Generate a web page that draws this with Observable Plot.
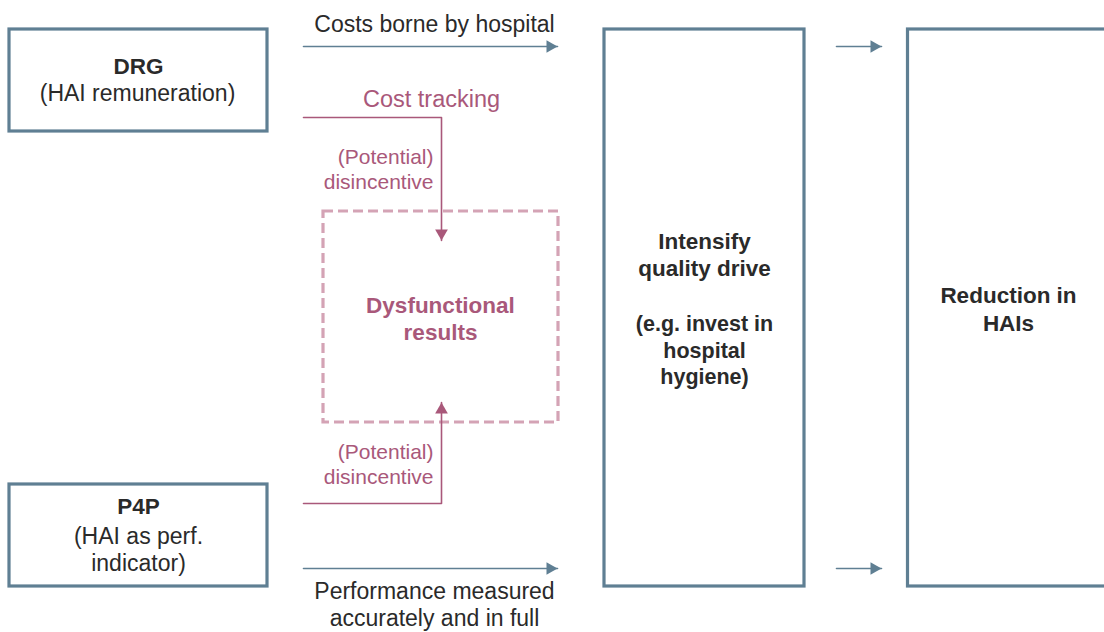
<!DOCTYPE html>
<html>
<head>
<meta charset="utf-8">
<script src="https://cdn.jsdelivr.net/npm/d3@7"></script>
<script src="https://cdn.jsdelivr.net/npm/@observablehq/plot@0.6"></script>
<style>
  html, body { margin: 0; padding: 0; background: #ffffff; }
  #chart svg { display: block; }
</style>
</head>
<body>
<div id="chart"></div>
<script>
// ---- Diagram data ----
const BLUE = "#5f7f93";
const PINK = "#a9587a";
const PINK_LIGHT = "#d4a3b5";
const DARK = "#2a2a2a";

// Solid boxes (slate blue border)
const boxes = [
  {id: "DRG",       x1: 9,   x2: 267,  y1: 29,  y2: 131},
  {id: "P4P",       x1: 9,   x2: 267,  y1: 484, y2: 586},
  {id: "Intensify", x1: 604, x2: 804,  y1: 29,  y2: 586},
  {id: "Reduction", x1: 907.5, x2: 1130, y1: 29, y2: 586}
];

// Dashed box
const dashedBoxes = [
  {id: "Dysfunctional", x1: 323, x2: 558, y1: 211, y2: 422}
];

// Arrows as polylines (last point = tip)
const blueArrows = [
  {id: "costs",   pts: [[303, 46], [557, 46]]},
  {id: "perf",    pts: [[303, 568], [557, 568]]},
  {id: "topR",    pts: [[836, 46], [881, 46]]},
  {id: "botR",    pts: [[836, 568], [881, 568]]}
];
const pinkArrows = [
  {id: "drgDis",  pts: [[303, 117], [441, 117], [441, 240]]},
  {id: "p4pDis",  pts: [[303, 503], [441, 503], [441, 402]]}
];

// Text lines: text, x, baseline y
const darkLabels = [
  {text: "Costs borne by hospital",  x: 434, y: 31},
  {text: "(HAI remuneration)",       x: 137, y: 100},
  {text: "(HAI as perf.",            x: 138, y: 543},
  {text: "indicator)",               x: 138, y: 570},
  {text: "Performance measured",     x: 434, y: 598},
  {text: "accurately and in full",   x: 434, y: 625}
];
const darkBoldLabels = [
  {text: "DRG",            x: 138,  y: 73},
  {text: "P4P",            x: 138,  y: 513},
  {text: "Reduction in",   x: 1008, y: 302},
  {text: "HAIs",           x: 1008, y: 330}
];
const middleBoldLabels = [
  {text: "Intensify",        x: 704, y: 248, size: 22.5},
  {text: "quality drive",    x: 704, y: 275, size: 22.5},
  {text: "(e.g. invest in",  x: 704, y: 330, size: 21.5},
  {text: "hospital",         x: 704, y: 357, size: 21.5},
  {text: "hygiene)",         x: 704, y: 383, size: 21.5}
];
const pinkLabels = [
  {text: "Cost tracking", x: 431, y: 106, size: 23.5, anchor: "middle"},
  {text: "(Potential)",   x: 433, y: 163, size: 21, anchor: "end"},
  {text: "disincentive",  x: 433, y: 188, size: 21, anchor: "end"},
  {text: "(Potential)",   x: 433, y: 458, size: 21, anchor: "end"},
  {text: "disincentive",  x: 433, y: 483, size: 21, anchor: "end"}
];
const pinkBoldLabels = [
  {text: "Dysfunctional", x: 440, y: 312},
  {text: "results",       x: 440, y: 339}
];

// ---- Derived structures for the library ----
const toSegments = (arrows) => arrows.flatMap(a => a.pts.map(([x, y], i) => ({id: a.id, x, y, i})));
const HEAD_H = 11; // arrowhead height in px
const toHeads = (arrows) => arrows.map(a => {
  const [x0, y0] = a.pts[a.pts.length - 2];
  const [x1, y1] = a.pts[a.pts.length - 1];
  const dx = x1 - x0, dy = y1 - y0, len = Math.hypot(dx, dy);
  const off = HEAD_H * 2 / 3;
  return {
    x: x1 - dx / len * off,
    y: y1 - dy / len * off,
    rotate: Math.atan2(dx, -dy) * 180 / Math.PI
  };
});
const headR = Math.sqrt((HEAD_H / 3) ** 2 * 3 * Math.sqrt(3) / Math.PI);

const FONT = "Liberation Sans, Arial, Helvetica, sans-serif";

const chart = Plot.plot({
  width: 1104,
  height: 632,
  margin: 0,
  x: {domain: [0, 1104], range: [0, 1104], axis: null},
  y: {domain: [0, 632], range: [0, 632], axis: null},
  style: {fontFamily: FONT, background: "#ffffff", overflow: "hidden"},
  marks: [
    Plot.rect(boxes, {x1: "x1", x2: "x2", y1: "y1", y2: "y2", fill: "white", stroke: BLUE, strokeWidth: 3.2}),
    Plot.rect(dashedBoxes, {x1: "x1", x2: "x2", y1: "y1", y2: "y2", fill: "none", stroke: PINK_LIGHT, strokeWidth: 3.2, strokeDasharray: "10,5"}),
    Plot.line(toSegments(blueArrows), {x: "x", y: "y", z: "id", stroke: BLUE, strokeWidth: 1.6, curve: "linear"}),
    Plot.line(toSegments(pinkArrows), {x: "x", y: "y", z: "id", stroke: PINK, strokeWidth: 1.6, curve: "linear"}),
    Plot.dot(toHeads(blueArrows), {x: "x", y: "y", rotate: "rotate", symbol: "triangle", r: headR, fill: BLUE, stroke: "none"}),
    Plot.dot(toHeads(pinkArrows), {x: "x", y: "y", rotate: "rotate", symbol: "triangle", r: headR, fill: PINK, stroke: "none"}),
    Plot.text(darkLabels, {x: "x", y: "y", text: "text", textAnchor: "middle", lineAnchor: "bottom", fill: DARK, fontSize: 23}),
    Plot.text(darkBoldLabels, {x: "x", y: "y", text: "text", textAnchor: "middle", lineAnchor: "bottom", fill: DARK, fontSize: 22.5, fontWeight: "bold"}),
    Plot.text(middleBoldLabels, {x: "x", y: "y", text: "text", textAnchor: "middle", lineAnchor: "bottom", fill: DARK, fontSize: "size", fontWeight: "bold"}),
    Plot.text(pinkLabels.filter(d => d.anchor === "middle"), {x: "x", y: "y", text: "text", textAnchor: "middle", lineAnchor: "bottom", fill: PINK, fontSize: "size"}),
    Plot.text(pinkLabels.filter(d => d.anchor === "end"), {x: "x", y: "y", text: "text", textAnchor: "end", lineAnchor: "bottom", fill: PINK, fontSize: "size"}),
    Plot.text(pinkBoldLabels, {x: "x", y: "y", text: "text", textAnchor: "middle", lineAnchor: "bottom", fill: PINK, fontSize: 22.5, fontWeight: "bold"})
  ]
});
document.getElementById("chart").appendChild(chart);
</script>
</body>
</html>
